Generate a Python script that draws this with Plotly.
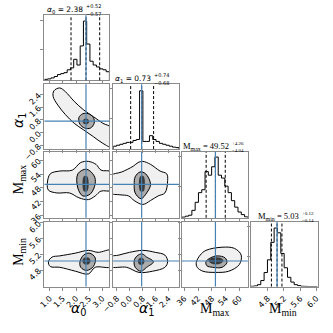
import numpy as np
import plotly.graph_objects as go

# ---- parameters, axis ranges and ticks
ax_ranges = [[0.80, 3.27], [-1.03, 3.05], [35.0, 63.6], [4.38, 6.03]]
tick_vals = [[1.0, 1.5, 2.0, 2.5, 3.0], [-0.8, 0.0, 0.8, 1.6, 2.4],
             [36, 42, 48, 54, 60], [4.8, 5.2, 5.6, 6.0]]
tick_text = [["1.0", "1.5", "2.0", "2.5", "3.0"], ["−0.8", "0.0", "0.8", "1.6", "2.4"],
             ["36", "42", "48", "54", "60"], ["4.8", "5.2", "5.6", "6.0"]]

medians = [2.38, 0.73, 49.52, 5.03]
err_hi = [0.52, 0.74, 4.26, 0.12]
err_lo = [0.57, 0.68, 4.04, 0.14]
truths = [2.38, 0.73, 49.52, 5.03]

# ---- 1D histograms (20 bins over the axis range)
hist_alpha0 = [1, 1.5, 2.5, 4, 6, 7, 8, 11, 13, 22, 16, 36, 62, 38, 20, 16, 14, 12, 11, 9]
hist_alpha1 = [3, 4, 5, 6, 7, 7, 9, 10, 61, 8, 8, 14, 10, 8, 6, 5, 4, 3, 2, 1.5]
hist_mmax = [0.7, 1.7, 2.7, 7.7, 16, 26, 29, 47.7, 44, 52.7, 62.7, 44, 41, 32.7, 26, 17.7, 11, 6, 3.3, 1]
hist_mmin = [0.3, 0.7, 2, 6.3, 14.7, 28, 46.3, 61.3, 56.3, 34.7, 19.7, 9.7, 4.7, 2, 1, 0.3, 0.2, 0, 0, 0]
hists = [hist_alpha0, hist_alpha1, hist_mmax, hist_mmin]
hist_top = 68

# ---- 2D contour levels (outer, inner) and dense core, in data units
a0_a1_outer = [(1.16, 2.63), (1.38, 2.81), (1.60, 2.57), (1.93, 1.97), (2.29, 1.43), (2.66, 1.01),
               (3.02, 0.59), (3.35, 0.30), (3.35, -0.90), (3.02, -0.67), (2.66, -0.25), (2.29, 0.17),
               (1.93, 0.59), (1.60, 1.13), (1.31, 1.73), (1.13, 2.27)]
a0_a1_inner = [(2.11, 0.95), (2.26, 1.19), (2.47, 1.19), (2.66, 0.95), (2.69, 0.59), (2.55, 0.29),
               (2.33, 0.29), (2.15, 0.53)]
a0_a1_core = [(2.25, 0.71), (2.33, 0.88), (2.45, 0.85), (2.50, 0.68), (2.42, 0.53), (2.30, 0.56)]

a0_mmax_outer = [(0.91, 49.9), (1.02, 54.1), (1.38, 55.3), (1.86, 55.7), (2.18, 59.0), (2.47, 59.5),
                 (2.76, 58.2), (2.95, 55.7), (3.35, 54.9), (3.35, 47.0), (2.95, 46.6), (2.73, 44.5),
                 (2.47, 42.9), (2.11, 43.7), (1.75, 45.8), (1.27, 45.8), (0.95, 47.0)]
a0_mmax_inner = [(2.07, 54.1), (2.40, 56.1), (2.69, 53.2), (2.73, 49.9), (2.55, 45.4), (2.26, 44.5),
                 (2.07, 47.9)]
a0_mmax_core = [(2.25, 50.0), (2.30, 53.0), (2.42, 53.0), (2.48, 49.5), (2.42, 46.5), (2.30, 46.5)]

a0_mmin_outer = [(0.95, 5.01), (1.09, 5.13), (1.38, 5.16), (1.98, 5.23), (2.47, 5.30), (2.84, 5.25),
                 (3.35, 5.30), (3.35, 4.89), (2.73, 4.87), (2.47, 4.70), (1.98, 4.77), (1.38, 4.87),
                 (1.02, 4.89)]
a0_mmin_inner = [(2.15, 5.01), (2.29, 5.18), (2.51, 5.23), (2.73, 5.11), (2.66, 4.89), (2.40, 4.79),
                 (2.18, 4.87)]
a0_mmin_core = [(2.24, 5.03), (2.32, 5.11), (2.48, 5.11), (2.55, 5.03), (2.48, 4.95), (2.32, 4.95)]

a1_mmax_outer = [(-1.2, 53.2), (-0.50, 54.9), (0.21, 57.4), (0.51, 59.0), (0.80, 59.5), (1.28, 58.2),
                 (1.87, 55.3), (2.28, 54.1), (2.34, 51.2), (2.17, 45.8), (1.75, 44.5), (1.28, 42.5),
                 (0.80, 40.8), (0.27, 42.5), (-0.08, 44.5), (-0.62, 45.0), (-1.2, 45.8)]
a1_mmax_inner = [(0.33, 52.8), (0.63, 54.9), (0.98, 54.1), (1.28, 49.5), (1.04, 45.8), (0.69, 43.3),
                 (0.33, 45.8), (0.27, 49.5)]
a1_mmax_core = [(0.56, 49.9), (0.65, 53.0), (0.85, 53.0), (0.93, 49.9), (0.85, 46.5), (0.65, 46.5)]

a1_mmin_outer = [(-1.2, 5.13), (-0.68, 5.18), (-0.02, 5.25), (0.80, 5.30), (1.57, 5.25), (2.17, 5.18),
                 (2.34, 5.01), (2.17, 4.87), (1.40, 4.77), (0.57, 4.74), (-0.20, 4.87), (-1.2, 4.89)]
a1_mmin_inner = [(0.27, 5.04), (0.45, 5.16), (0.75, 5.21), (1.04, 5.13), (1.46, 5.01), (1.04, 4.87),
                 (0.69, 4.77), (0.33, 4.87)]
a1_mmin_core = [(0.50, 5.02), (0.60, 5.10), (0.80, 5.10), (0.90, 5.02), (0.80, 4.94), (0.60, 4.94)]

mmax_mmin_outer = [(41.2, 4.99), (42.9, 5.18), (45.4, 5.30), (52.4, 5.38), (57.8, 5.35), (60.7, 5.18),
                   (59.9, 4.94), (55.3, 4.77), (49.5, 4.74), (44.1, 4.77), (41.6, 4.87)]
mmax_mmin_inner = [(45.4, 5.01), (47.4, 5.11), (50.3, 5.16), (53.7, 5.11), (54.5, 4.99), (52.4, 4.87),
                   (48.3, 4.87), (45.8, 4.91)]
mmax_mmin_core = [(46.5, 5.04), (48.0, 5.11), (51.5, 5.11), (53.0, 5.04), (51.5, 4.96), (48.0, 4.96)]

contours = {
    (1, 0): (a0_a1_outer, a0_a1_inner, a0_a1_core),
    (2, 0): (a0_mmax_outer, a0_mmax_inner, a0_mmax_core),
    (3, 0): (a0_mmin_outer, a0_mmin_inner, a0_mmin_core),
    (2, 1): (a1_mmax_outer, a1_mmax_inner, a1_mmax_core),
    (3, 1): (a1_mmin_outer, a1_mmin_inner, a1_mmin_core),
    (3, 2): (mmax_mmin_outer, mmax_mmin_inner, mmax_mmin_core),
}

# ---- labels
sans = "DejaVu Sans"
serif = "Liberation Serif"
axis_labels = [("<i>α</i><sub>0</sub>", sans), ("<i>α</i><sub>1</sub>", sans),
               ("M<sub>max</sub>", serif), ("M<sub>min</sub>", serif)]
title_main = [("<i>α</i><sub>0</sub> = 2.38", sans, 7.5), ("<i>α</i><sub>1</sub> = 0.73", sans, 7.5),
              ("M<sub>max</sub> = 49.52", serif, 8.5), ("M<sub>min</sub> = 5.03", serif, 8.5)]

W = H = 333
cols_px = [(34, 102), (106, 175), (178, 247), (250, 320)]
rows_px = [(14, 82), (86, 154), (157, 226), (230, 298)]
frame = "#8a8a8a"
truth_color = "#4682b4"


def px(x):
    return x / W


def py(y):
    return 1 - y / H


fig = go.Figure()
layout = {}
shapes = []
annotations = []

n = 0
for r in range(4):
    for c in range(r + 1):
        n += 1
        sx = "" if n == 1 else str(n)
        xr, yr = "x" + sx, "y" + sx
        xa = dict(domain=[px(cols_px[c][0]), px(cols_px[c][1])], anchor=yr, range=ax_ranges[c],
                  showline=True, mirror=True, linecolor=frame, linewidth=1.3,
                  ticks="outside", ticklen=3, tickcolor=frame, tickvals=tick_vals[c],
                  ticktext=tick_text[c], showticklabels=(r == 3), tickangle=-45,
                  tickfont=dict(size=8, family=sans, color="black"),
                  showgrid=False, zeroline=False)
        ya = dict(domain=[py(rows_px[r][1]), py(rows_px[r][0])], anchor=xr,
                  showline=True, mirror=True, linecolor=frame, linewidth=1.3,
                  ticks="outside", ticklen=3, tickcolor=frame, tickangle=-45,
                  tickfont=dict(size=8, family=sans, color="black"),
                  showgrid=False, zeroline=False)
        if r == c:
            ya.update(range=[0, hist_top], tickvals=[32, 63], showticklabels=False)
            lo, hi = ax_ranges[c]
            edges = np.linspace(lo, hi, len(hists[c]) + 1)
            counts = hists[c]
            xs = [edges[0]] + list(edges[:-1]) + [edges[-1], edges[-1]]
            ys = [0] + list(counts) + [counts[-1], 0]
            fig.add_trace(go.Scatter(x=xs, y=ys, xaxis=xr, yaxis=yr, mode="lines",
                                     line=dict(color="black", width=1, shape="hv"),
                                     hoverinfo="skip", showlegend=False))
            for q in [medians[c] - err_lo[c], medians[c], medians[c] + err_hi[c]]:
                shapes.append(dict(type="line", xref=xr, yref=yr + " domain", x0=q, x1=q, y0=0, y1=1,
                                   line=dict(color="black", width=1, dash="3px,2px")))
            shapes.append(dict(type="line", xref=xr, yref=yr + " domain", x0=truths[c], x1=truths[c],
                               y0=0, y1=1, line=dict(color=truth_color, width=1.2)))
            # title with asymmetric errors stacked to the right
            xt = [75.5, 147, 228, 302][c]
            yt = [8.5, 80.5, 151.5, 224.5][c]
            txt, fam, fs = title_main[c]
            annotations.append(dict(text=txt, x=px(xt), y=py(yt), xref="paper", yref="paper",
                                    xanchor="right", yanchor="middle", showarrow=False, borderpad=0,
                                    font=dict(size=fs, family=fam, color="black")))
            annotations.append(dict(text=f"+{err_hi[c]:.2f}", x=px(xt + 1), y=py(yt + 0.3), xref="paper",
                                    yref="paper", xanchor="left", yanchor="bottom", showarrow=False,
                                    borderpad=0, font=dict(size=5, family=fam, color="black")))
            annotations.append(dict(text=f"−{err_lo[c]:.2f}", x=px(xt + 1), y=py(yt + 0.3), xref="paper",
                                    yref="paper", xanchor="left", yanchor="top", showarrow=False,
                                    borderpad=0, font=dict(size=5, family=fam, color="black")))
        else:
            ya.update(range=ax_ranges[r], tickvals=tick_vals[r], ticktext=tick_text[r],
                      showticklabels=(c == 0))
            outer, inner, core = contours[(r, c)]
            for poly, fillc, lw in [(outer, "#f0f0f0", 1), (inner, "#acacac", 1), (core, "#3a3a3a", 0)]:
                pxs = [p[0] for p in poly] + [poly[0][0]]
                pys = [p[1] for p in poly] + [poly[0][1]]
                fig.add_trace(go.Scatter(x=pxs, y=pys, xaxis=xr, yaxis=yr, mode="lines",
                                         fill="toself", fillcolor=fillc,
                                         line=dict(color="black" if lw else fillc, width=max(lw, 0.1),
                                                   shape="spline", smoothing=1.0),
                                         hoverinfo="skip", showlegend=False))
            shapes.append(dict(type="line", xref=xr, yref=yr + " domain", x0=truths[c], x1=truths[c],
                               y0=0, y1=1, line=dict(color=truth_color, width=1.2)))
            shapes.append(dict(type="line", xref=xr + " domain", yref=yr, x0=0, x1=1, y0=truths[r],
                               y1=truths[r], line=dict(color=truth_color, width=1.2)))
        layout["xaxis" + sx] = xa
        layout["yaxis" + sx] = ya

# axis labels: bottom and left
label_bottom_x = [70, 141, 212, 284]
for c in range(4):
    txt, fam = axis_labels[c]
    annotations.append(dict(text=txt, x=px(label_bottom_x[c]), y=py(322), xref="paper", yref="paper",
                            xanchor="center", yanchor="middle", showarrow=False,
                            font=dict(size=14, family=fam, color="black")))
label_left_y = [124, 186, 262]
for r in range(1, 4):
    txt, fam = axis_labels[r]
    annotations.append(dict(text=txt, x=px(8), y=py(label_left_y[r - 1]), xref="paper", yref="paper",
                            xanchor="center", yanchor="middle", textangle=-90, showarrow=False,
                            font=dict(size=14, family=fam, color="black")))

fig.update_layout(**layout)
fig.update_layout(width=W, height=H, margin=dict(l=0, r=0, t=0, b=0),
                  paper_bgcolor="white", plot_bgcolor="white",
                  shapes=shapes, annotations=annotations, showlegend=False)

# the page body has a default 8px margin; drop it so the figure fills the window
fig.write_html("out.html", config={"displayModeBar": False},
               post_script="document.body.style.margin='0';")
